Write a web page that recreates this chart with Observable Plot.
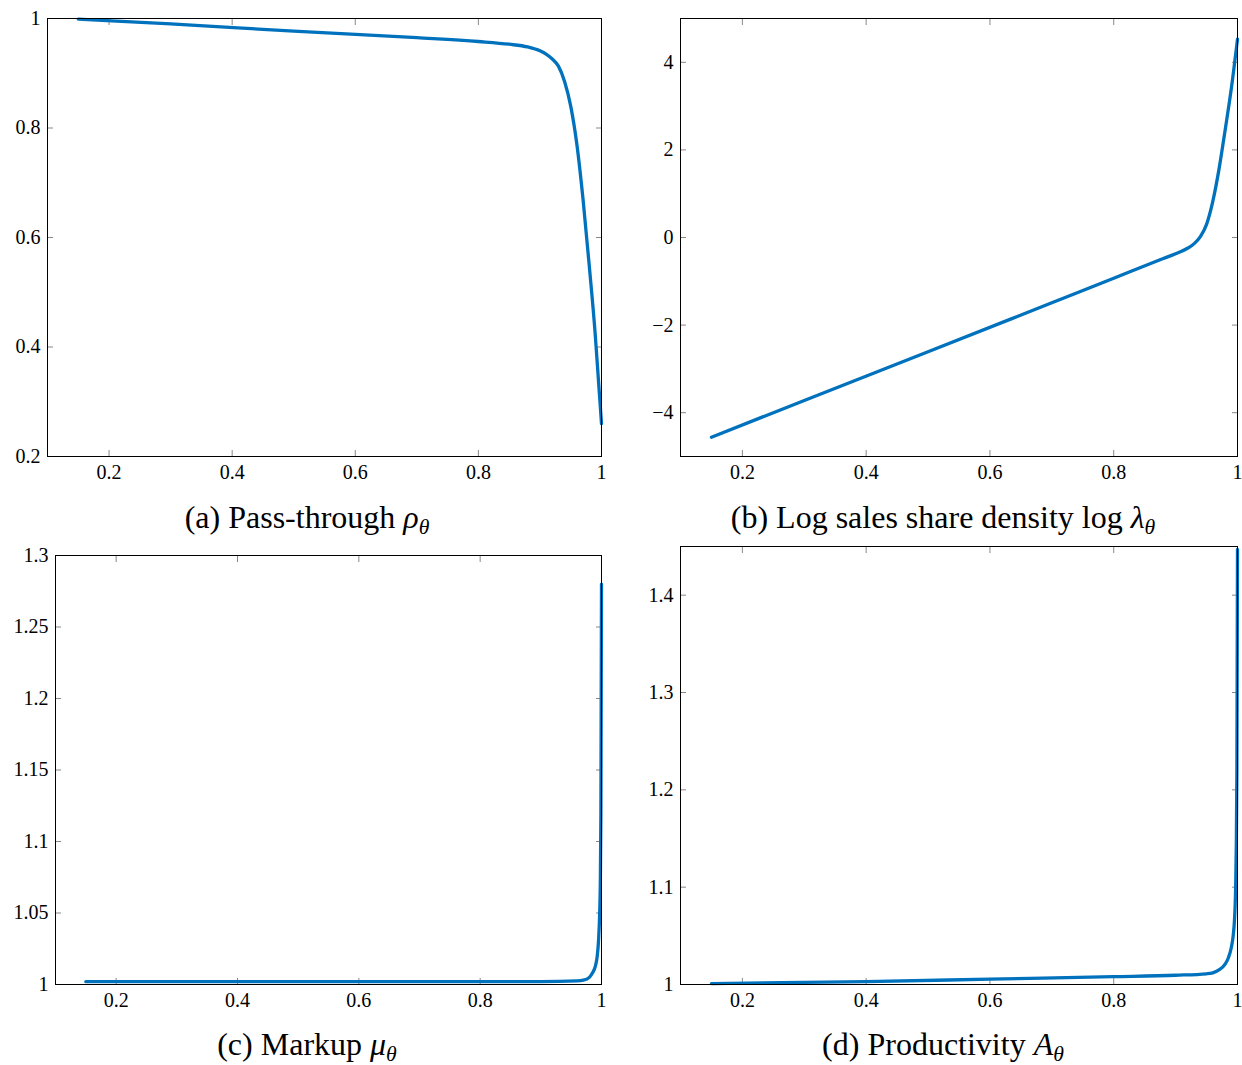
<!DOCTYPE html>
<html>
<head>
<meta charset="utf-8">
<script src="https://cdn.jsdelivr.net/npm/d3@7"></script>
<script src="https://cdn.jsdelivr.net/npm/@observablehq/plot@0.6"></script>
<style>
  html, body { margin: 0; padding: 0; background: white; }
  #wrap { position: relative; width: 1242px; height: 1065px; background: white; overflow: hidden; }
  .panel { position: absolute; }
  .cap { position: absolute; font-family: "Liberation Serif", serif; font-size: 32px; line-height: 1.5; padding: 2px 4px 6px 4px; color: #000; white-space: nowrap; transform: translate(-50%, -50%); }
  .cap sub { font-size: 0.68em; vertical-align: baseline; position: relative; top: 0.28em; line-height: 1; }
</style>
</head>
<body>
<div id="wrap"></div>
<script>
// ---- data ----
const thetaA = [0.15, 0.3, 0.5, 0.7, 0.8, 0.85, 0.88, 0.9, 0.91, 0.92, 0.93, 0.94, 0.95, 0.96, 0.97, 0.98, 0.99, 0.995, 1.0];
const passThrough = [0.999, 0.990, 0.977, 0.965, 0.958, 0.953, 0.948, 0.941, 0.935, 0.926, 0.913, 0.885, 0.840, 0.770, 0.670, 0.550, 0.420, 0.340, 0.260];

const thetaB = [0.15, 0.3, 0.5, 0.7, 0.8, 0.88, 0.9, 0.92, 0.93, 0.94, 0.95, 0.96, 0.97, 0.98, 0.99, 1.0];
const logLambda = [-4.56, -3.72, -2.61, -1.49, -0.93, -0.48, -0.37, -0.24, -0.14, 0.02, 0.30, 0.82, 1.55, 2.45, 3.40, 4.53];

const thetaC = [0.15, 0.5, 0.9, 0.96, 0.97, 0.98, 0.985, 0.99, 0.993, 0.995, 0.997, 0.998, 0.999, 1.0];
const markup = [1.002, 1.002, 1.002, 1.0025, 1.003, 1.005, 1.008, 1.013, 1.02, 1.03, 1.05, 1.07, 1.12, 1.28];

const thetaD = [0.15, 0.4, 0.6, 0.8, 0.9, 0.95, 0.96, 0.97, 0.98, 0.985, 0.99, 0.993, 0.995, 0.997, 0.998, 0.999, 1.0];
const productivity = [1.001, 1.003, 1.0055, 1.008, 1.0095, 1.011, 1.012, 1.015, 1.021, 1.027, 1.038, 1.05, 1.065, 1.1, 1.14, 1.22, 1.447];

const xTicks = [0.2, 0.4, 0.6, 0.8, 1];
const yTicksA = [0.2, 0.4, 0.6, 0.8, 1];
const yTicksB = [-4, -2, 0, 2, 4];
const yTicksC = [1, 1.05, 1.1, 1.15, 1.2, 1.25, 1.3];
const yTicksD = [1, 1.1, 1.2, 1.3, 1.4];

const captions = [
  "(a) Pass-through <i>ρ</i><sub><i>θ</i></sub>",
  "(b) Log sales share density log <i>λ</i><sub><i>θ</i></sub>",
  "(c) Markup <i>μ</i><sub><i>θ</i></sub>",
  "(d) Productivity <i>A</i><sub><i>θ</i></sub>"
];

const LINE = "#0072BD";
const fmt = d => (d < 0 ? "\u2212" + String(-d) : String(d));

function panel({xs, ys, xDomain, yDomain, yTicks, left, top, width, height, margins}) {
  const data = xs.map((x, i) => ({x, y: ys[i]}));
  const svg = Plot.plot({
    width, height,
    marginLeft: margins[0], marginRight: margins[1], marginTop: margins[2], marginBottom: margins[3],
    style: {fontFamily: "Liberation Serif, serif", fontSize: "20px", color: "black", background: "transparent", overflow: "visible"},
    x: {domain: xDomain, label: null},
    y: {domain: yDomain, label: null},
    marks: [
      Plot.axisX({anchor: "bottom", ticks: xTicks, tickFormat: fmt, tickSize: -6, tickPadding: 14, stroke: "#888", fill: "black", label: null}),
      Plot.axisX({anchor: "top", ticks: xTicks, tickSize: -6, stroke: "#888", fill: "none", label: null}),
      Plot.axisY({anchor: "left", ticks: yTicks, tickFormat: fmt, tickSize: -6, tickPadding: 13, stroke: "#888", fill: "black", label: null}),
      Plot.axisY({anchor: "right", ticks: yTicks, tickSize: -6, stroke: "#888", fill: "none", label: null}),
      Plot.line(data, {x: "x", y: "y", stroke: LINE, strokeWidth: 3.3, curve: "monotone-x"}),
      Plot.frame({stroke: "black", strokeWidth: 1})
    ]
  });
  const div = document.createElement("div");
  div.className = "panel";
  div.style.left = left + "px";
  div.style.top = top + "px";
  div.style.width = width + "px";
  div.style.height = height + "px";
  div.appendChild(svg);
  document.getElementById("wrap").appendChild(div);
}

panel({xs: thetaA, ys: passThrough, xDomain: [0.1, 1], yDomain: [0.2, 1], yTicks: yTicksA,
  left: 0, top: 0, width: 620, height: 490, margins: [47, 19, 18, 34]});
panel({xs: thetaB, ys: logLambda, xDomain: [0.1, 1], yDomain: [-5, 5], yTicks: yTicksB,
  left: 640, top: 0, width: 602, height: 490, margins: [40, 5, 18, 34]});
panel({xs: thetaC, ys: markup, xDomain: [0.1, 1], yDomain: [1, 1.3], yTicks: yTicksC,
  left: 0, top: 520, width: 620, height: 500, margins: [55, 19, 35, 36]});
panel({xs: thetaD, ys: productivity, xDomain: [0.1, 1], yDomain: [1, 1.45], yTicks: yTicksD,
  left: 640, top: 520, width: 602, height: 500, margins: [40, 5, 26, 36]});

const capPos = [[307, 519], [943, 519], [307, 1046], [943, 1046]];
captions.forEach((html, i) => {
  const d = document.createElement("div");
  d.className = "cap";
  d.style.left = capPos[i][0] + "px";
  d.style.top = capPos[i][1] + "px";
  d.innerHTML = html;
  document.getElementById("wrap").appendChild(d);
});
</script>
</body>
</html>
